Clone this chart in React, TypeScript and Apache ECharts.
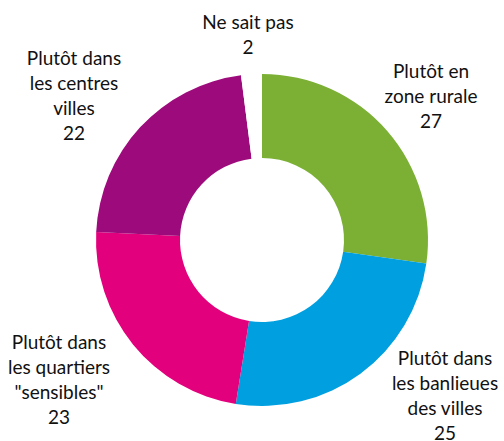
import React, { useEffect, useRef } from "react";
import * as echarts from "echarts";

const categories = [
  "Plutôt en\nzone rurale",
  "Plutôt dans\nles banlieues\ndes villes",
  "Plutôt dans\nles quartiers\n\"sensibles\"",
  "Plutôt dans\nles centres\nvilles",
  "Ne sait pas",
];
const values = [27, 25, 23, 22, 2];
const colors = ["#7BB034", "#009FDF", "#E3007C", "#9D0A7B", "#FFFFFF"];
const labelPos = [
  [431, 95],
  [445, 395],
  [59, 379],
  [74, 95],
  [248, 34],
];

export default function App() {
  const ref = useRef<HTMLDivElement>(null);
  useEffect(() => {
    document.body.style.margin = "0";
    if (!ref.current) return;
    const chart = echarts.init(ref.current, undefined, { renderer: "svg" });
    chart.setOption({
      animation: false,
      backgroundColor: "#ffffff",
      series: [
        {
          type: "pie",
          center: [262, 240],
          radius: [82, 166],
          startAngle: 90,
          clockwise: true,
          avoidLabelOverlap: false,
          label: {
            show: true,
            position: "outside",
            formatter: "{b}\n{c}",
            fontFamily: "Lato",
            fontSize: 19,
            lineHeight: 25,
            color: "#111111",
            align: "center",
          },
          labelLine: { show: false },
          labelLayout: (p: any) => ({
            x: labelPos[p.dataIndex][0],
            y: labelPos[p.dataIndex][1],
            align: "center",
            verticalAlign: "middle",
          }),
          emphasis: { disabled: true },
          data: categories.map((name, i) => ({
            name,
            value: values[i],
            itemStyle: { color: colors[i] },
          })),
        },
      ],
    });
    return () => chart.dispose();
  }, []);
  return <div ref={ref} style={{ width: 504, height: 441 }} />;
}
